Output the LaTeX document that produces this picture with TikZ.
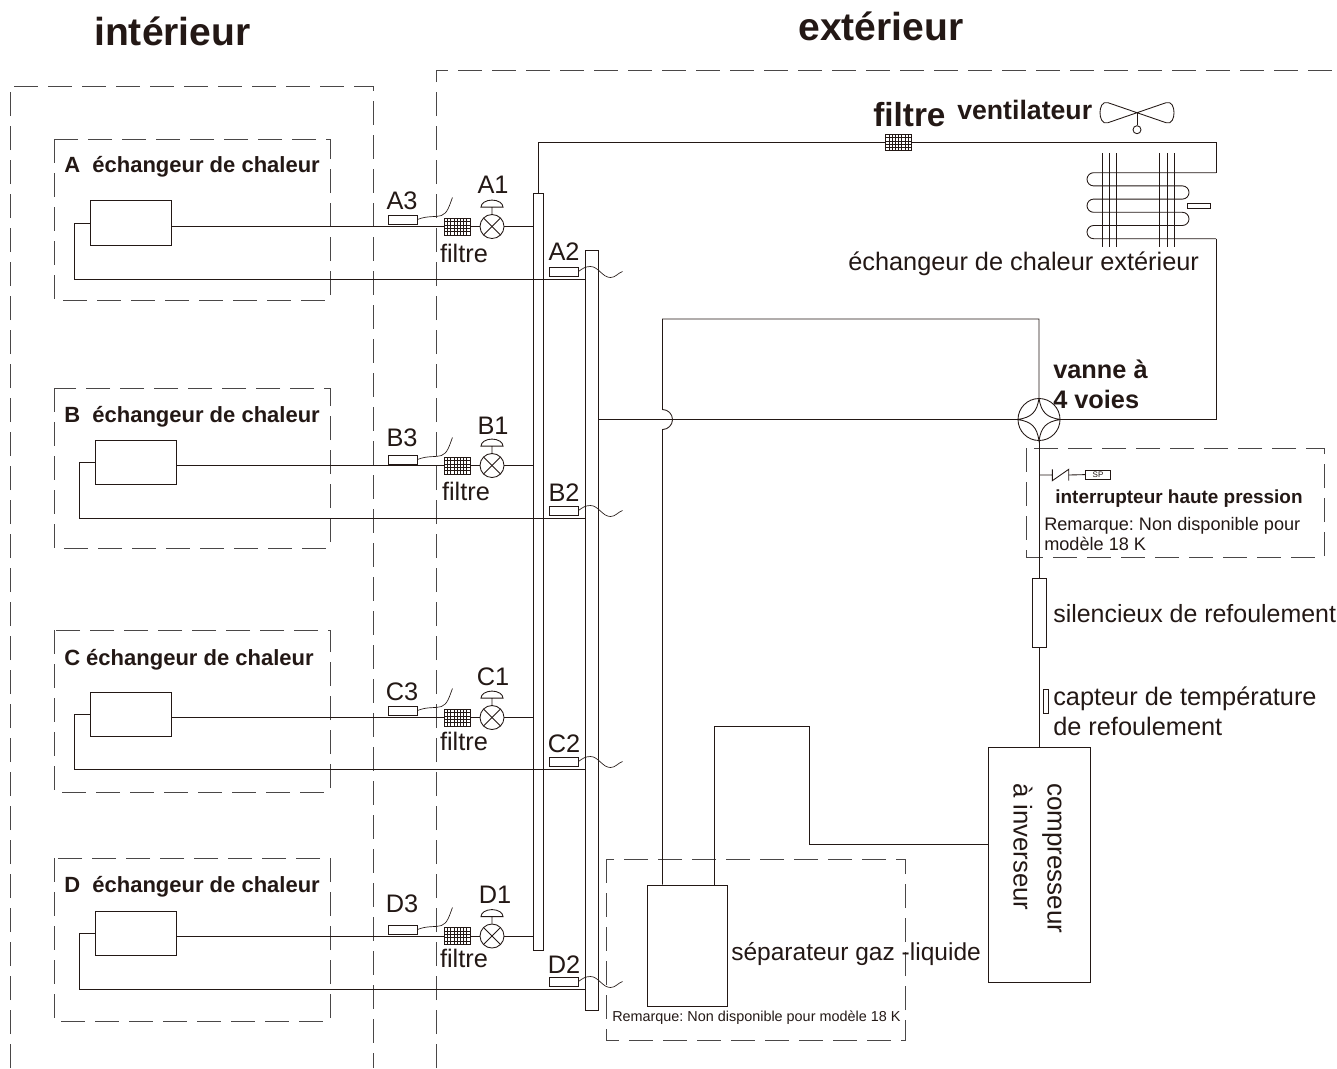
\documentclass[tikz,border=0pt]{standalone}
\usepackage{fontspec}
\setmainfont{Liberation Sans}
\definecolor{ink}{HTML}{231815}
\definecolor{framegray}{HTML}{4a4747}

\newcommand{\domehead}[1]{\draw [pipe] (#1.north) -- ++(0,-7) ++(11,0) arc[start angle=0,end angle=-180,x radius=11,y radius=7] -- cycle;}
\newcommand{\sensorwire}[1]{\draw [pipe,line width=0.5pt] (#1.east) .. controls +(10,-4) and +(-8,2) .. ++(24,-4) .. controls +(6,-2) and +(-3,8) .. ++(11,-18);}
\newcommand{\wavewire}[1]{\draw [pipe,line width=0.5pt] (#1.east) .. controls +(4,-3) and +(-5,0) .. ++(12,-5) .. controls +(8,0) and +(-8,0) .. ++(20,11) .. controls +(5,0) and +(-5,2) .. ++(12,-6);}

\begin{document}
\frenchspacing
\begin{tikzpicture}[x=0.75pt,y=0.75pt,yscale=-1,xscale=1,
  pipe/.style={draw=ink,line width=0.65pt},
  frame/.style={draw=framegray,line width=0.65pt,dash pattern=on 18pt off 7.5pt},
  unitbox/.style={pipe,rectangle,inner sep=0,minimum width=60.75pt,minimum height=33.4pt},
  sensorbox/.style={pipe,rectangle,inner sep=0,minimum width=21.75pt,minimum height=6.75pt},
  valvebox/.style={pipe,circle,inner sep=0,minimum size=18pt,
    path picture={
      \draw [ink,line width=0.65pt] (path picture bounding box.south west) -- (path picture bounding box.north east);
      \draw [ink,line width=0.65pt] (path picture bounding box.north west) -- (path picture bounding box.south east);
    }},
  filterbox/.style={pipe,rectangle,inner sep=0,minimum width=19.5pt,minimum height=12.75pt,
    path picture={
      \foreach \dx in {-7.2,-4.8,-2.4,0,2.4,4.8,7.2}
        \draw [ink,line width=0.4pt] ([xshift=\dx pt]path picture bounding box.south) -- ([xshift=\dx pt]path picture bounding box.north);
      \foreach \dy in {-3.6,-1.2,1.2,3.6}
        \draw [ink,line width=0.4pt] ([yshift=\dy pt]path picture bounding box.west) -- ([yshift=\dy pt]path picture bounding box.east);
    }},
  txt/.style={text=ink,inner sep=0,font=\fontsize{19}{23}\selectfont},
  boldtxt/.style={text=ink,inner sep=0,font=\fontsize{16.5}{20}\selectfont\bfseries},
  notetxt/.style={text=ink,inner sep=0,font=\fontsize{10.8}{13}\selectfont},
  titletxt/.style={text=ink,inner sep=0,font=\fontsize{29.3}{34}\selectfont\bfseries}]
\useasboundingbox (0,0) rectangle (1337,1068);

%Frames
\draw [frame] (10,1068) -- (10,86) -- (373,86) -- (373,1068) ;
\draw [frame] (436,1068) -- (436,70) -- (1337,70) ;
\draw [frame] (54,139) rectangle (330,300) ;
\draw [frame] (54,388) rectangle (330,548) ;
\draw [frame] (54,630) rectangle (330,792) ;
\draw [frame] (54,858) rectangle (330,1021) ;
\draw [frame] (1026,448) rectangle (1324,557) ;
\draw [frame] (606,859) rectangle (905,1040) ;

%Header bars
\node [pipe,rectangle,inner sep=0,minimum width=7.5pt,minimum height=567.75pt] (barliq) at (538,571.5) {};
\node [pipe,rectangle,inner sep=0,minimum width=9.75pt,minimum height=570pt] (bargas) at (591.5,630) {};

%Branch A
\node [unitbox] (unitA) at (130.5,223) {};
\node [filterbox] (filtA) at (457,226.5) {};
\node [valvebox] (valveA) at (492,226.5) {};
\node [sensorbox] (sensA3) at (402.5,219.5) {};
\node [sensorbox] (sensA2) at (563.5,271.5) {};
\coordinate (retA) at (74,279);
\draw [pipe] (unitA.east |- filtA) -- (filtA.west) ;
\draw [pipe] (filtA.east) -- (valveA.west) ;
\draw [pipe] (valveA.east) -- (valveA -| barliq.west) ;
\draw [pipe] (unitA.west) -| (retA) -- (retA -| bargas.west) ;
\domehead{valveA}
\sensorwire{sensA3}
\wavewire{sensA2}

%Branch B
\node [unitbox] (unitB) at (135.5,462.5) {};
\node [filterbox] (filtB) at (457,465.5) {};
\node [valvebox] (valveB) at (492,465.5) {};
\node [sensorbox] (sensB3) at (402.5,459.5) {};
\node [sensorbox] (sensB2) at (563.5,510.5) {};
\coordinate (retB) at (79,518);
\draw [pipe] (unitB.east |- filtB) -- (filtB.west) ;
\draw [pipe] (filtB.east) -- (valveB.west) ;
\draw [pipe] (valveB.east) -- (valveB -| barliq.west) ;
\draw [pipe] (unitB.west) -| (retB) -- (retB -| bargas.west) ;
\domehead{valveB}
\sensorwire{sensB3}
\wavewire{sensB2}

%Branch C
\node [unitbox] (unitC) at (130.5,714.5) {};
\node [filterbox] (filtC) at (457,717.5) {};
\node [valvebox] (valveC) at (492,717.5) {};
\node [sensorbox] (sensC3) at (402.5,710.5) {};
\node [sensorbox] (sensC2) at (563.5,761.5) {};
\coordinate (retC) at (74,769);
\draw [pipe] (unitC.east |- filtC) -- (filtC.west) ;
\draw [pipe] (filtC.east) -- (valveC.west) ;
\draw [pipe] (valveC.east) -- (valveC -| barliq.west) ;
\draw [pipe] (unitC.west) -| (retC) -- (retC -| bargas.west) ;
\domehead{valveC}
\sensorwire{sensC3}
\wavewire{sensC2}

%Branch D
\node [unitbox] (unitD) at (136,933.5) {};
\node [filterbox] (filtD) at (457,936) {};
\node [valvebox] (valveD) at (492,936) {};
\node [sensorbox] (sensD3) at (402.5,929.5) {};
\node [sensorbox] (sensD2) at (563.5,981.5) {};
\coordinate (retD) at (79,989);
\draw [pipe] (unitD.east |- filtD) -- (filtD.west) ;
\draw [pipe] (filtD.east) -- (valveD.west) ;
\draw [pipe] (valveD.east) -- (valveD -| barliq.west) ;
\draw [pipe] (unitD.west) -| (retD) -- (retD -| bargas.west) ;
\domehead{valveD}
\sensorwire{sensD3}
\wavewire{sensD2}

%Four way valve
\node [pipe,circle,inner sep=0,minimum size=31.5pt] (valvefour) at (1039,419.5) {};
\draw [pipe] (valvefour.north) .. controls +(2,14) and +(-14,-2) .. (valvefour.east) .. controls +(-14,2) and +(2,-14) .. (valvefour.south) .. controls +(-2,-14) and +(14,2) .. (valvefour.west) .. controls +(14,-2) and +(-2,14) .. (valvefour.north) ;

%Top filter and coil
\node [filterbox,minimum height=12pt] (filtT) at (898.5,142.5) {};
\coordinate (coiltop) at (1216,172.7);
\coordinate (coilend) at (1216,238.7);
\draw [pipe] (barliq.north) |- (filtT.west) ;
\draw [pipe] (filtT.east) -| (coiltop) ;
\draw [pipe] (coiltop) -- (1093.6,172.7) arc[start angle=-90,end angle=-270,radius=6.6] -- (1182.4,185.9) arc[start angle=-90,end angle=90,radius=6.6] -- (1093.6,199.1) arc[start angle=-90,end angle=-270,radius=6.6] -- (1182.4,212.3) arc[start angle=-90,end angle=90,radius=6.6] -- (1093.6,225.5) arc[start angle=-90,end angle=-270,radius=6.6] -- (coilend) ;
\draw [pipe] (1102,153.3) -- (1102,247.3) (1109,153.3) -- (1109,247.3) (1116.3,153.3) -- (1116.3,247.3) ;
\draw [pipe] (1159.7,153.3) -- (1159.7,247.3) (1167,153.3) -- (1167,247.3) (1174.3,153.3) -- (1174.3,247.3) ;
\node [pipe,rectangle,inner sep=0,minimum width=17.5pt,minimum height=3.75pt] (coilbulb) at (1199,205.8) {};
\draw [pipe] (valvefour.east) -| (coilend) ;

%Fan
\coordinate (fanhub) at (1137,112.7);
\node [pipe,circle,inner sep=0,minimum size=6pt] (fanknob) at (1137,129.7) {};
\draw [pipe] (fanhub) -- (fanknob.north) ;
\draw [pipe] (fanhub) -- ++(-29,-10) .. controls +(-6,-2) and +(0,-5) .. ++(-8,10) .. controls +(0,5) and +(-6,2) .. ++(8,10) -- (fanhub) -- ++(29,-10) .. controls +(6,-2) and +(0,-5) .. ++(8,10) .. controls +(0,5) and +(6,2) .. ++(-8,10) -- (fanhub) ;

%Compressor and separator
\node [pipe,rectangle,inner sep=0,minimum width=76.5pt,minimum height=176.25pt] (comp) at (1039,864.5) {};
\node [pipe,rectangle,inner sep=0,minimum width=10.5pt,minimum height=51.75pt] (silencer) at (1039,612.5) {};
\node [pipe,rectangle,inner sep=0,minimum width=60pt,minimum height=90.75pt] (sepbox) at (687,945.5) {};
\node [pipe,rectangle,inner sep=0,minimum width=3.75pt,minimum height=18pt] (tempsens) at (1045.5,701) {};
\coordinate (riserT) at (662.5,319);
\coordinate (suctionA) at (809,844);
\coordinate (suctionB) at (809,726);
\coordinate (sepin) at (714,885);
\draw [pipe] (valvefour.south) -- (silencer.north) ;
\draw [pipe] (silencer.south) -- (comp.north) ;
\draw [pipe] (suctionA -| comp.west) -- (suctionA) -- (suctionB) -| (sepin) ;
\draw [pipe] (bargas.east |- valvefour) -- (valvefour.west) ;
\draw [pipe] (valvefour.north) |- (riserT) -- (662.5,409.5) arc[start angle=-90,end angle=90,radius=10] -- (riserT |- sepbox.north) ;

%Pressure switch
\coordinate (hpjoint) at (1039,475);
\coordinate (hpa) at (1052.3,475);
\coordinate (hpb) at (1068.7,475);
\node [pipe,rectangle,inner sep=0,minimum width=18.5pt,minimum height=7pt,text=ink,font=\fontsize{6}{7}\selectfont] (spbox) at (1098,474.6) {SP};
\draw [pipe] (hpjoint) -- (hpa) (hpa) ++(0,-5.7) -- ++(0,11.4) -- ++(16.4,-11.4) -- ++(0,11.4) ;
\draw [pipe] (hpb) -- (spbox.west) ;

% Text Node
\node [titletxt,anchor=base west] (titleint) at (94,45) {intérieur};
\node [titletxt,anchor=base west] (titleext) at (798,40) {extérieur};
\node [text=ink,inner sep=0,font=\fontsize{25}{30}\selectfont\bfseries,anchor=base west] (filtTtxt) at (873,126) {filtre};
\node [text=ink,inner sep=0,font=\fontsize{20}{24}\selectfont\bfseries,anchor=base west] (fantxt) at (957,119) {ventilateur};
\node [boldtxt,anchor=base west] (headA) at (64,172) {A~~échangeur de chaleur};
\node [boldtxt,anchor=base west] (headB) at (64,422) {B~~échangeur de chaleur};
\node [boldtxt,anchor=base west] (headC) at (64,665) {C échangeur de chaleur};
\node [boldtxt,anchor=base west] (headD) at (64,892) {D~~échangeur de chaleur};
\node [txt,anchor=base] (txtA1) at (493,193) {A1};
\node [txt,anchor=base] (txtA3) at (402,209) {A3};
\node [txt,anchor=base] (txtA2) at (564,260) {A2};
\node [txt,anchor=base] (txtB1) at (493,434) {B1};
\node [txt,anchor=base] (txtB3) at (402,446) {B3};
\node [txt,anchor=base] (txtB2) at (564,501) {B2};
\node [txt,anchor=base] (txtC1) at (493,685) {C1};
\node [txt,anchor=base] (txtC3) at (402,700) {C3};
\node [txt,anchor=base] (txtC2) at (564,752) {C2};
\node [txt,anchor=base] (txtD1) at (495,903) {D1};
\node [txt,anchor=base] (txtD3) at (402,912) {D3};
\node [txt,anchor=base] (txtD2) at (564,973) {D2};
\node [txt,anchor=base] (filA) at (464,262) {filtre};
\node [txt,anchor=base] (filB) at (466,500) {filtre};
\node [txt,anchor=base] (filC) at (464,750) {filtre};
\node [txt,anchor=base] (filD) at (464,967) {filtre};
\node [txt,anchor=base west] (coiltxt) at (848,270) {échangeur de chaleur extérieur};
\node [text=ink,inner sep=0,font=\fontsize{19}{23}\selectfont\bfseries,anchor=base west] (fourA) at (1053,378) {vanne à};
\node [text=ink,inner sep=0,font=\fontsize{19}{23}\selectfont\bfseries,anchor=base west] (fourB) at (1053,408) {4 voies};
\node [text=ink,inner sep=0,font=\fontsize{14.2}{17}\selectfont\bfseries,anchor=base] (hptxt) at (1179,503) {interrupteur haute pression};
\node [text=ink,inner sep=0,font=\fontsize{13.6}{16}\selectfont,anchor=base west] (hpnoteA) at (1044,530) {Remarque: Non disponible pour};
\node [text=ink,inner sep=0,font=\fontsize{13.6}{16}\selectfont,anchor=base west] (hpnoteB) at (1044,550) {modèle 18 K};
\node [txt,anchor=base west,font=\fontsize{18.7}{23}\selectfont] (siltxt) at (1053,622) {silencieux de refoulement};
\node [txt,anchor=base west] (tempA) at (1053,705) {capteur de température};
\node [txt,anchor=base west] (tempB) at (1053,735) {de refoulement};
\node [txt,anchor=west,rotate=-90,font=\fontsize{19.5}{23}\selectfont] (compA) at (1052,783) {compresseur};
\node [txt,anchor=west,rotate=-90,font=\fontsize{19.3}{23}\selectfont] (compB) at (1023,783) {à inverseur};
\node [txt,anchor=base west,font=\fontsize{18.4}{23}\selectfont] (septxt) at (731,960) {séparateur gaz -liquide};
\node [notetxt,anchor=base west] (sepnote) at (612,1021) {Remarque: Non disponible pour modèle 18 K};
\end{tikzpicture}
\end{document}
